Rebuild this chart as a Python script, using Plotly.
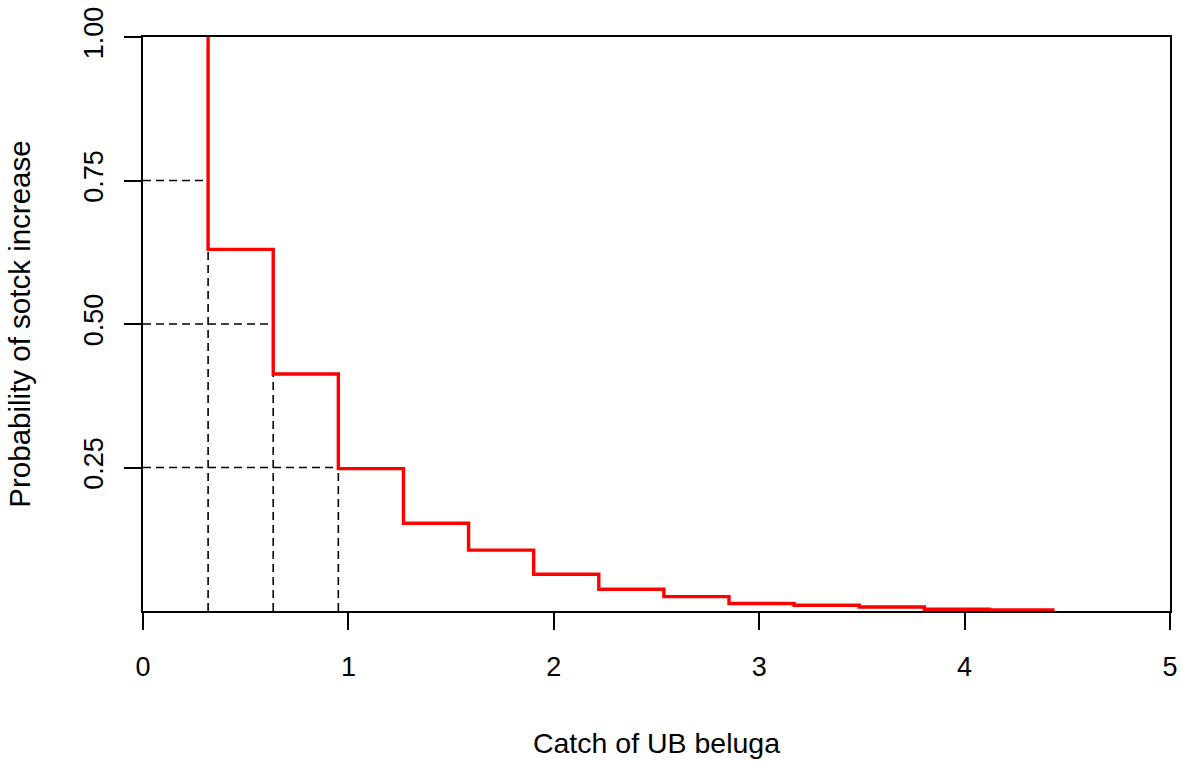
import plotly.graph_objects as go

# Step function: catch level at which probability steps down, and the probability after each step
catch_steps = [0.317, 0.317, 0.634, 0.951, 1.268, 1.585, 1.902, 2.219, 2.536,
               2.853, 3.170, 3.487, 3.804, 4.121, 4.438]
prob_values = [1.00, 0.630, 0.413, 0.248, 0.153, 0.106, 0.064, 0.038, 0.025,
               0.013, 0.010, 0.007, 0.003, 0.002, 0.002]

# Reference thresholds (dashed guide lines)
threshold_probs = [0.75, 0.50, 0.25]
threshold_catch = [0.317, 0.634, 0.951]

x_ticks = [0, 1, 2, 3, 4, 5]
y_ticks = [0.25, 0.50, 0.75, 1.00]
y_ticktext = ["0.25", "0.50", "0.75", "1.00"]

FONT = "Liberation Sans, Arial, sans-serif"

fig = go.Figure()

for p, c in zip(threshold_probs, threshold_catch):
    fig.add_trace(go.Scatter(x=[0, c], y=[p, p], mode="lines",
                             line=dict(color="black", width=1.6, dash="8px,5px"),
                             hoverinfo="skip", showlegend=False))
    fig.add_trace(go.Scatter(x=[c, c], y=[0, p], mode="lines",
                             line=dict(color="black", width=1.6, dash="8px,5px"),
                             hoverinfo="skip", showlegend=False))

fig.add_trace(go.Scatter(x=catch_steps, y=prob_values, mode="lines",
                         line=dict(color="#ff0000", width=3.4, shape="hv"),
                         showlegend=False))

axis_common = dict(showline=True, linecolor="black", linewidth=1.8, mirror=True,
                   ticks="outside", ticklen=17, tickwidth=1.8, tickcolor="black",
                   showgrid=False, zeroline=False, automargin=False,
                   tickfont=dict(family=FONT, size=27, color="black"))

fig.update_layout(
    width=1188, height=761,
    margin=dict(l=143, r=18, t=37, b=150),
    plot_bgcolor="white", paper_bgcolor="white",
    font=dict(family=FONT, size=27, color="black"),
    xaxis=dict(range=[0, 5], tickvals=x_ticks,
               title=dict(text="Catch of UB beluga", standoff=52,
                          font=dict(family=FONT, size=28.5, color="black")),
               ticklabelstandoff=14,
               **axis_common),
    yaxis=dict(range=[0, 1], tickvals=y_ticks, ticktext=y_ticktext, tickangle=-90,
               title=dict(text="Probability of sotck increase", standoff=40,
                          font=dict(family=FONT, size=29.5, color="black")),
               ticklabelstandoff=10,
               **axis_common),
)

fig.write_html("out.html")
